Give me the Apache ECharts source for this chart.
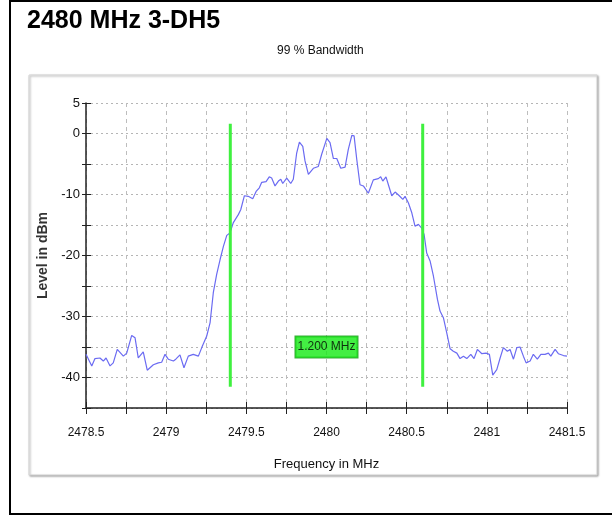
<!DOCTYPE html>
<html>
<head>
<meta charset="utf-8">
<script src="https://cdn.jsdelivr.net/npm/echarts@6/dist/echarts.min.js"></script>
<style>
html,body{margin:0;padding:0;background:#fff;}
#c{width:612px;height:518px;}
</style>
</head>
<body>
<div id="c"></div>
<script>
var freq = [2478.500,2478.536,2478.556,2478.587,2478.608,2478.625,2478.650,2478.670,2478.695,2478.733,2478.754,2478.785,2478.806,2478.826,2478.857,2478.882,2478.920,2478.951,2478.972,2478.993,2479.013,2479.045,2479.060,2479.086,2479.111,2479.138,2479.169,2479.201,2479.222,2479.253,2479.274,2479.294,2479.315,2479.336,2479.357,2479.378,2479.398,2479.419,2479.450,2479.465,2479.488,2479.512,2479.540,2479.561,2479.581,2479.596,2479.623,2479.643,2479.658,2479.679,2479.700,2479.715,2479.727,2479.752,2479.777,2479.793,2479.814,2479.831,2479.852,2479.866,2479.887,2479.918,2479.949,2479.970,2480.002,2480.022,2480.043,2480.064,2480.089,2480.116,2480.136,2480.158,2480.172,2480.189,2480.209,2480.230,2480.261,2480.292,2480.323,2480.338,2480.351,2480.371,2480.386,2480.407,2480.428,2480.454,2480.476,2480.490,2480.511,2480.532,2480.552,2480.573,2480.594,2480.609,2480.625,2480.646,2480.667,2480.692,2480.708,2480.729,2480.750,2480.771,2480.791,2480.813,2480.833,2480.854,2480.875,2480.900,2480.920,2480.941,2480.969,2480.995,2481.016,2481.037,2481.062,2481.083,2481.103,2481.128,2481.145,2481.166,2481.187,2481.207,2481.228,2481.245,2481.270,2481.290,2481.315,2481.337,2481.363,2481.384,2481.399,2481.426,2481.446,2481.478,2481.500];
var level = [-36.2,-38.1,-36.9,-36.8,-37.3,-36.8,-38.1,-37.6,-35.4,-36.5,-36.0,-33.1,-33.5,-36.8,-35.8,-38.8,-37.9,-37.6,-37.5,-36.2,-37.0,-37.3,-37.0,-36.3,-38.4,-36.5,-36.2,-36.5,-35.1,-33.2,-31.0,-26.1,-23.1,-20.7,-18.5,-16.7,-16.3,-14.6,-13.3,-12.5,-10.2,-10.3,-10.7,-9.5,-8.9,-8.0,-7.9,-7.1,-7.3,-8.6,-7.8,-7.5,-8.2,-7.3,-8.2,-7.5,-3.2,-1.4,-2.1,-4.5,-6.7,-5.7,-5.4,-3.4,-0.8,-1.5,-4.1,-4.1,-5.7,-5.5,-2.6,-0.3,-0.4,-4.3,-8.4,-8.6,-9.8,-7.6,-7.4,-7.1,-7.8,-7.1,-8.4,-10.2,-9.6,-10.2,-10.8,-10.3,-11.4,-13.0,-15.2,-14.9,-15.5,-16.6,-19.6,-20.9,-23.4,-27.2,-29.1,-30.2,-32.7,-35.3,-35.7,-36.0,-36.9,-36.5,-36.9,-36.2,-36.9,-35.4,-36.1,-36.0,-36.2,-39.6,-38.7,-36.8,-35.1,-35.7,-35.4,-37.0,-35.1,-35.0,-36.5,-37.6,-37.3,-36.2,-37.0,-36.2,-36.2,-36.0,-36.5,-35.4,-36.1,-36.4,-36.5];
var markerFreq = [2479.4, 2480.6];
var markerTop = 1.6;
var markerBottom = -41.5;
var bandwidthLabel = '1.200 MHz';
var bandwidthLabelPos = [2480.0, -35.0];
var xTicks = {min: 2478.5, max: 2481.5, interval: 0.25};
var yTicks = {min: -45, max: 5, interval: 5};
var titleText = '2480 MHz 3-DH5';
var subtitleText = '99 % Bandwidth';

var narrow = "'Liberation Sans Narrow', 'Arial Narrow', 'Liberation Sans', Arial, sans-serif";
var trace = freq.map(function (f, i) { return [f, level[i]]; });
var markerSeries = markerFreq.map(function (f) {
  return {
    type: 'line', xAxisIndex: 0, yAxisIndex: 0, symbol: 'none', silent: true,
    lineStyle: {color: '#3ff03f', width: 3}, z: 4,
    data: [[f, markerTop], [f, markerBottom]]
  };
});

var chart = echarts.init(document.getElementById('c'), null, {renderer: 'canvas'});
var xFmt = function (v) {
  return Math.abs(v * 2 - Math.round(v * 2)) < 1e-6 ? String(v) : '';
};
var yFmt = function (v) {
  return (v === 5 || (v % 10 === 0)) ? String(v) : '';
};
var option = {
  backgroundColor: '#ffffff',
  animation: false,
  graphic: [
    {type: 'rect', z: -10, shape: {x: 29, y: 75, width: 568, height: 400},
     style: {fill: '#ffffff', stroke: '#d4d4d4', lineWidth: 1, shadowColor: 'rgba(0,0,0,0.35)', shadowBlur: 2, shadowOffsetX: 1, shadowOffsetY: 1}},
    {type: 'rect', z: 100, shape: {x: 10, y: 1, width: 640, height: 513},
     style: {fill: 'none', stroke: '#000000', lineWidth: 2}}
  ],
  title: [
    {text: titleText, left: 22, top: 4,
     textStyle: {fontFamily: "'Liberation Sans', Arial, sans-serif", fontWeight: 'bold', fontSize: 25, color: '#000'}},
    {text: subtitleText, left: 272, top: 40,
     textStyle: {fontFamily: narrow, fontWeight: 'normal', fontSize: 12, color: '#111'}}
  ],
  grid: {left: 86, right: 45, top: 103, bottom: 110},
  xAxis: [
    {type: 'value', min: xTicks.min, max: xTicks.max, interval: xTicks.interval,
     name: 'Frequency in MHz', nameLocation: 'middle', nameGap: 50,
     nameTextStyle: {fontFamily: narrow, fontSize: 13, color: '#111'},
     axisLine: {show: true, onZero: false, lineStyle: {color: '#222', width: 1.5}},
     axisTick: {show: true, inside: false, length: 6, lineStyle: {color: '#222', width: 1}},
     axisLabel: {formatter: xFmt, fontFamily: narrow, fontSize: 12, color: '#111', margin: 19, showMinLabel: true, showMaxLabel: true},
     splitLine: {show: true, lineStyle: {color: '#bdbdbd', type: [4, 4], width: 1}}},
    {type: 'value', min: xTicks.min, max: xTicks.max, interval: xTicks.interval, position: 'bottom', gridIndex: 0,
     axisLine: {show: false, onZero: false},
     axisTick: {show: true, inside: true, length: 6, lineStyle: {color: '#222', width: 1}},
     axisLabel: {show: false}, splitLine: {show: false}}
  ],
  yAxis: [
    {type: 'value', min: yTicks.min, max: yTicks.max, interval: yTicks.interval,
     name: 'Level in dBm', nameLocation: 'middle', nameGap: 27,
     nameTextStyle: {fontFamily: "'Liberation Sans', Arial, sans-serif", fontWeight: 'bold', fontSize: 14, color: '#333'},
     axisLine: {show: true, onZero: false, lineStyle: {color: '#222', width: 1.5}},
     axisTick: {show: true, inside: false, length: 4, lineStyle: {color: '#222', width: 1}},
     axisLabel: {formatter: yFmt, fontFamily: narrow, fontSize: 13, color: '#111', margin: 6},
     splitLine: {show: true, lineStyle: {color: '#b5b5b5', type: [2, 3], width: 1}}},
    {type: 'value', min: yTicks.min, max: yTicks.max, interval: yTicks.interval, position: 'left', gridIndex: 0,
     axisLine: {show: false, onZero: false},
     axisTick: {show: true, inside: true, length: 5, lineStyle: {color: '#222', width: 1}},
     axisLabel: {show: false}, splitLine: {show: false}}
  ],
  series: [
    {type: 'line', xAxisIndex: 0, yAxisIndex: 0, data: trace, symbol: 'none', smooth: false,
     lineStyle: {color: '#6b6bf2', width: 1.2}, z: 3},
    markerSeries[0], markerSeries[1],
    {type: 'scatter', xAxisIndex: 0, yAxisIndex: 0, symbolSize: 0, z: 5,
     data: [bandwidthLabelPos],
     label: {show: true, position: 'inside', formatter: bandwidthLabel,
       fontFamily: narrow, fontSize: 12, color: '#000',
       backgroundColor: '#14ea14', borderColor: '#0a9a0a', borderWidth: 1, padding: [5, 2, 4, 2]}}
  ]
};
chart.setOption(option);
</script>
</body>
</html>
